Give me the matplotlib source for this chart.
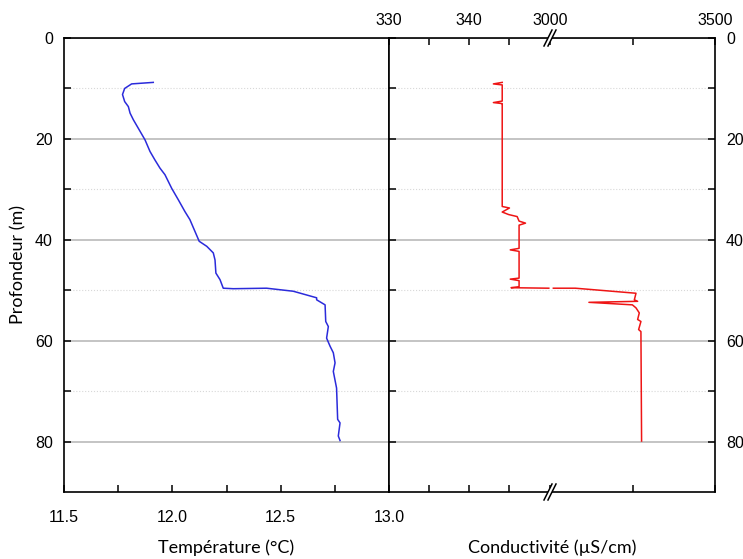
import matplotlib
matplotlib.use("Agg")
import matplotlib.pyplot as plt
import numpy as np

# temperature profile
depth_t = [8.8, 9.1, 10.0, 11.2, 12.6, 13.6, 14.9, 16.2, 17.9, 20.2, 22.5, 24.2, 25.8,
           27.1, 29.8, 32.1, 34.4, 36.0, 38.4, 40.3, 41.3, 42.6, 44.0, 46.6, 47.9,
           49.6, 49.7, 49.6, 50.2, 51.5, 51.9, 52.9, 56.2, 57.2, 59.5, 61.1, 62.4,
           64.4, 66.1, 69.4, 75.6, 76.3, 78.9, 79.8]
temp = [11.912, 11.812, 11.78, 11.77, 11.78, 11.797, 11.805, 11.82, 11.843, 11.874,
        11.897, 11.92, 11.943, 11.966, 11.997, 12.028, 12.058, 12.081, 12.105, 12.124,
        12.159, 12.189, 12.197, 12.201, 12.22, 12.235, 12.281, 12.435, 12.558, 12.666,
        12.666, 12.705, 12.708, 12.72, 12.712, 12.728, 12.743, 12.751, 12.743, 12.758,
        12.763, 12.774, 12.766, 12.774]

# conductivity profile (uS/cm), nan where the trace is cut by the axis break
depth_c = [8.8, 9.1, 9.3, 12.5, 12.8, 13.0, 13.2, 33.4, 33.7, 34.5, 35.0, 35.4, 36.3,
           36.7, 37.1, 41.7, 42.0, 42.3, 47.6, 47.8, 48.1, 49.3, 49.5, 49.6, 49.6,
           49.6, 49.6, 50.6, 51.9, 52.2, 52.4, 52.9, 53.5, 54.5, 55.8, 56.2, 57.8,
           58.2, 79.9]
cond = [344.1, 343.0, 344.1, 344.1, 343.0, 344.1, 344.1, 344.1, 345.0, 344.1, 344.9,
        345.96, 346.2, 347.0, 346.2, 346.2, 345.1, 346.2, 346.2, 345.1, 346.2, 346.2,
        345.2, 349.9, np.nan, 3009, 3076, 3260, 3255, 3265, 3117, 3249, 3260, 3270,
        3265, 3275, 3268, 3275, 3277]

depth_ticks = [0, 20, 40, 60, 80]
temp_ticks = [11.5, 12.0, 12.5, 13.0]
cond_ticks = [330, 340, 3000, 3500]


def fwd(c):
    c = np.asarray(c, dtype=float)
    return np.where(c <= 350, c - 330,
                    np.where(c >= 3000, 20.1 + (c - 3000) / 500 * 20.5,
                             20 + (c - 350) / 2650 * 0.1))


def inv(u):
    u = np.asarray(u, dtype=float)
    return np.where(u <= 20, u + 330,
                    np.where(u >= 20.1, 3000 + (u - 20.1) / 20.5 * 500,
                             350 + (u - 20) / 0.1 * 2650))


plt.rcParams['font.family'] = ['Liberation Sans', 'DejaVu Sans']
plt.rcParams['font.size'] = 11.5

fig = plt.figure(figsize=(7.43, 5.59), dpi=100)
ax1 = fig.add_axes([64/743, 1-492/559, 325/743, 454/559])
ax2 = fig.add_axes([389/743, 1-492/559, 326/743, 454/559], sharey=ax1)

ax1.plot(temp, depth_t, color='#2b2bdb', lw=1.1)
ax2.set_xscale('function', functions=(fwd, inv))
ax2.plot(cond, depth_c, color='#ee1515', lw=1.1)

ax1.set_ylim(90, 0)
ax1.set_xlim(11.5, 13.0)
ax2.set_xlim(330, 3500)

ax1.set_yticks(depth_ticks)
ax1.set_yticks([10, 30, 50, 70], minor=True)
ax1.set_xticks(temp_ticks)
ax1.set_xticklabels(['11.5', '12.0', '12.5', '13.0'])
ax1.set_xticks([11.75, 12.25, 12.75], minor=True)
ax2.set_xticks(cond_ticks)
ax2.set_xticks([335, 345, 3250], minor=True)

for ax in (ax1, ax2):
    ax.grid(axis='y', which='major', color='#bababa', lw=1.2, ls='-')
    ax.grid(axis='y', which='minor', color='#d8d8d8', lw=0.8, ls=':')
    ax.set_axisbelow(True)
    for s in ax.spines.values():
        s.set_linewidth(1.2)
    ax.tick_params(which='both', direction='in', length=5, width=1.1, colors='black',
                   labelsize=11.5)

ax1.tick_params(axis='y', which='both', left=True, right=False, pad=8)
ax1.tick_params(axis='x', which='both', top=False, bottom=True, pad=13)
ax2.tick_params(axis='y', which='both', left=True, right=True,
                labelleft=False, labelright=True, pad=8)
ax2.tick_params(axis='x', which='both', top=True, bottom=True,
                labeltop=True, labelbottom=False, pad=7)

lab_font = ['Lato', 'DejaVu Sans']
ax1.set_xlabel('Température (°C)', family=lab_font, fontsize=13)
ax2.set_xlabel('Conductivité (µS/cm)', family=lab_font, fontsize=13)
ax1.xaxis.set_label_coords(0.5, -0.105)
ax2.xaxis.set_label_coords(0.5, -0.105)
ax1.set_ylabel('Profondeur (m)', family=lab_font, fontsize=13)
ax1.yaxis.set_label_coords(-0.117, 0.5)

# axis break marks
xb = (550 - 389) / 326
px, py = 1 / 326, 1 / 454
for yb in (0, 1):
    poly = plt.Polygon([(xb - 6*px, yb - 8*py), (xb - 2*px, yb - 8*py),
                        (xb + 6*px, yb + 8*py), (xb + 2*px, yb + 8*py)],
                       closed=True, transform=ax2.transAxes, facecolor='white',
                       edgecolor='none', clip_on=False, zorder=5)
    ax2.add_patch(poly)
    for dx in (-4, 0):
        ax2.plot([xb + (dx - 2)*px, xb + (dx + 6)*px], [yb - 8*py, yb + 8*py],
                 color='black', lw=1.1, transform=ax2.transAxes, clip_on=False, zorder=6)

fig.savefig('out.png', dpi=100)
